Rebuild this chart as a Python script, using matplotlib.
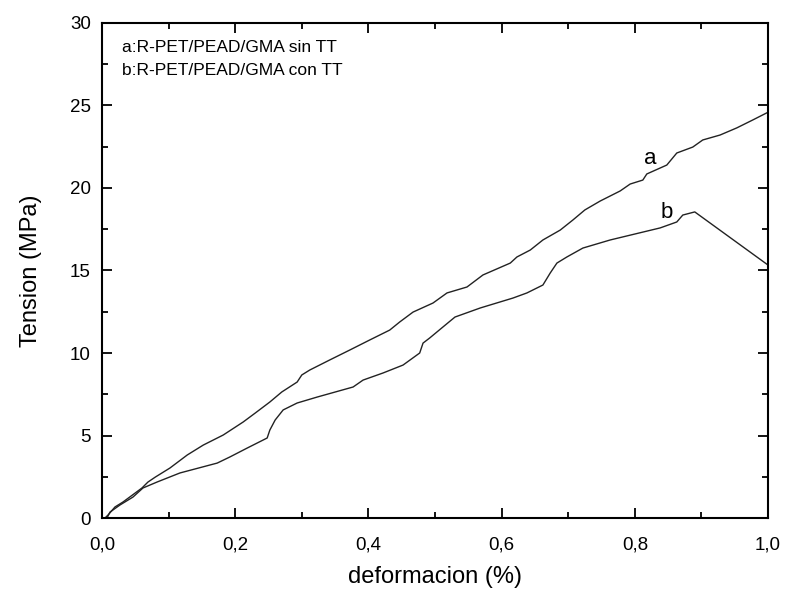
import matplotlib
matplotlib.use("Agg")
import matplotlib.pyplot as plt
from matplotlib.ticker import MultipleLocator, FuncFormatter

plt.rcParams['font.family'] = ['Liberation Sans', 'DejaVu Sans']

# curve a: R-PET/PEAD/GMA sin TT
def_a = [0.0045, 0.009, 0.0195, 0.0315, 0.060, 0.069, 0.080, 0.102, 0.128, 0.152,
         0.182, 0.212, 0.230, 0.252, 0.270, 0.293, 0.300, 0.312, 0.342, 0.372,
         0.402, 0.432, 0.447, 0.467, 0.497, 0.518, 0.548, 0.572, 0.613, 0.623,
         0.643, 0.662, 0.688, 0.707, 0.725, 0.748, 0.778, 0.793, 0.812, 0.818,
         0.848, 0.863, 0.887, 0.902, 0.928, 0.953, 0.977, 0.998]
ten_a = [0.0, 0.18, 0.67, 0.97, 1.82, 2.18, 2.48, 3.03, 3.82, 4.42,
         5.03, 5.82, 6.36, 7.03, 7.64, 8.24, 8.67, 8.97, 9.58, 10.18,
         10.79, 11.39, 11.88, 12.48, 13.03, 13.64, 14.0, 14.73, 15.45, 15.82,
         16.24, 16.85, 17.45, 18.06, 18.67, 19.21, 19.82, 20.24, 20.48, 20.85,
         21.39, 22.12, 22.48, 22.91, 23.21, 23.64, 24.12, 24.55]

# curve b: R-PET/PEAD/GMA con TT
def_b = [0.0075, 0.012, 0.027, 0.0465, 0.0615, 0.0826, 0.117, 0.173, 0.192, 0.218,
         0.248, 0.252, 0.260, 0.272, 0.293, 0.323, 0.377, 0.392, 0.422, 0.452,
         0.477, 0.482, 0.492, 0.512, 0.530, 0.568, 0.617, 0.638, 0.662, 0.673,
         0.683, 0.698, 0.722, 0.763, 0.838, 0.863, 0.872, 0.890, 1.0]
ten_b = [0.0, 0.36, 0.79, 1.27, 1.82, 2.18, 2.73, 3.33, 3.70, 4.24,
         4.85, 5.33, 5.94, 6.55, 6.97, 7.33, 7.94, 8.36, 8.79, 9.27,
         10.0, 10.6, 10.91, 11.58, 12.18, 12.73, 13.33, 13.64, 14.12, 14.85,
         15.45, 15.82, 16.36, 16.85, 17.58, 17.94, 18.36, 18.55, 15.33]

fig = plt.figure(figsize=(7.87, 5.89), dpi=100)
ax = fig.add_axes([0.1296, 0.1205, 0.8463, 0.8405])

ax.plot(def_a, ten_a, color='#222222', lw=1.0)
ax.plot(def_b, ten_b, color='#222222', lw=1.0)

ax.set_xlim(0, 1.0)
ax.set_ylim(0, 30)
ax.xaxis.set_major_locator(MultipleLocator(0.2))
ax.xaxis.set_minor_locator(MultipleLocator(0.1))
ax.yaxis.set_major_locator(MultipleLocator(5))
ax.yaxis.set_minor_locator(MultipleLocator(2.5))
ax.xaxis.set_major_formatter(FuncFormatter(lambda v, p: ('%.1f' % v).replace('.', ',')))
ax.tick_params(which='both', direction='in', top=True, right=True, width=1.3,
               labelsize=13.5, colors='black')
ax.tick_params(which='major', length=7)
ax.tick_params(which='minor', length=4)
ax.tick_params(axis='x', which='major', pad=13)
ax.tick_params(axis='y', which='major', pad=8)
for s in ax.spines.values():
    s.set_linewidth(1.5)

ax.set_xlabel('deformacion (%)', fontsize=17, labelpad=9)
ax.set_ylabel('Tension (MPa)', fontsize=17, labelpad=20)

ax.text(0.03, 28.5, 'a:R-PET/PEAD/GMA sin TT', fontsize=12.5, va='center')
ax.text(0.03, 27.1, 'b:R-PET/PEAD/GMA con TT', fontsize=12.5, va='center')
ax.text(0.823, 21.8, 'a', fontsize=16, ha='center', va='center')
ax.text(0.848, 18.5, 'b', fontsize=16, ha='center', va='center')

fig.savefig('out.png', dpi=100)
